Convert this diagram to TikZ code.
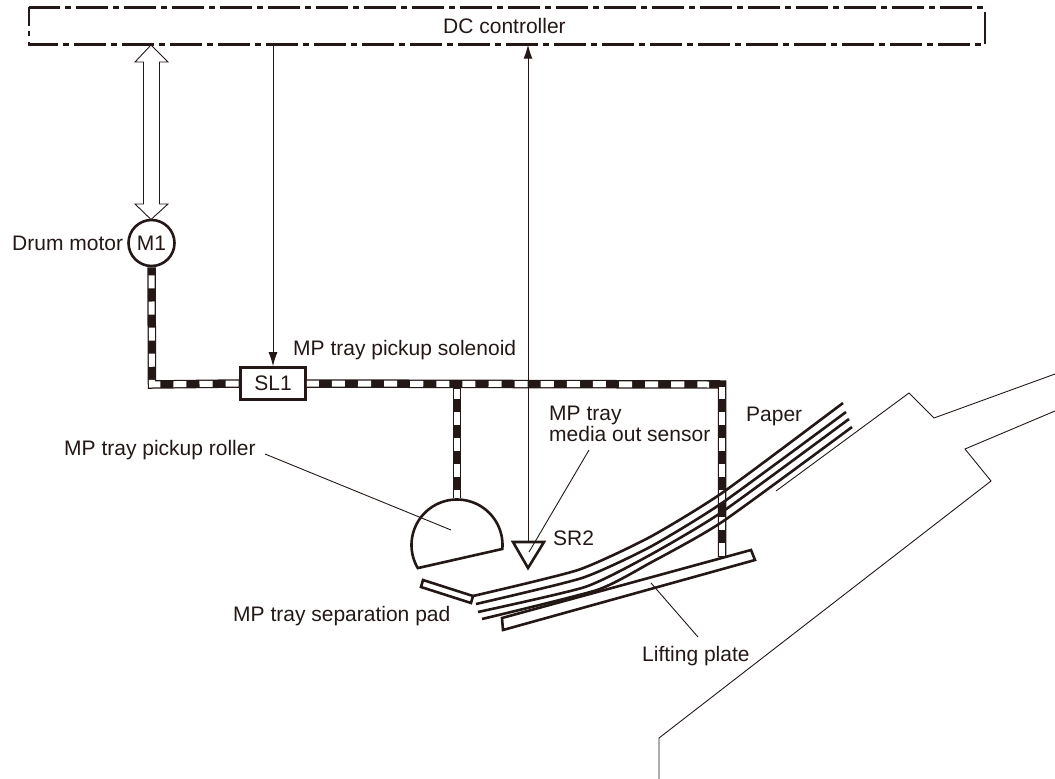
\documentclass[tikz,border=0pt]{standalone}
\usepackage{fontspec}
\setmainfont{Liberation Sans}
\usetikzlibrary{arrows.meta}
\definecolor{ink}{HTML}{231815}
\tikzset{
  x=1pt,y=-1pt,
  lbl/.style={inner sep=0pt,anchor=base west,text=ink,font=\fontsize{21}{21}\selectfont},
  thin line/.style={draw=ink,line width=0.9pt},
  part/.style={draw=ink,line width=2.6pt,line join=miter},
  paper/.style={draw=ink,line width=2.6pt},
  bus/.style={draw=ink,line width=2.4pt},
  sig/.style={draw=ink,line width=1pt},
  tip/.style={-{Latex[length=14pt,width=9pt]}},
  belta/.style={draw=ink,line width=8.5pt},
  beltb/.style={draw=white,line width=6pt,dash pattern=on 13.05pt off 13.05pt},
}
\begin{document}
\begin{tikzpicture}
\useasboundingbox (0,0) rectangle (1055,779);
% DC controller bar
\node[inner sep=0pt,minimum width=956pt,minimum height=37pt] (dc) at (507,26) {};
\draw[bus,dash pattern=on 32pt off 5pt on 6pt off 5pt,dash phase=1pt] (29,7.5) -- (984,7.5);
\draw[bus,dash pattern=on 32pt off 5pt on 6pt off 5pt,dash phase=3pt] (29,44.5) -- (981,44.5);
\draw[bus] (29,6.5) -- (29,26) (29,31) -- (29,36) (29,42) -- (29,45.5);
\draw[bus] (985,12) -- (985,44);
\node[lbl] (dctext) at (443,33) {DC controller};
% components
\node[draw=ink,line width=2.6pt,circle,minimum size=46pt,inner sep=0pt,text=ink,font=\fontsize{21}{21}\selectfont] (m1) at (151.5,243) {M1};
\node[draw=ink,line width=2.6pt,fill=white,minimum width=65pt,minimum height=32pt,inner sep=0pt,text=ink,font=\fontsize{21}{21}\selectfont] (sl1) at (273,383.5) {SL1};
\coordinate (corner) at (152,384.5);
\coordinate (j) at (457,384.5);
\coordinate (jw) at (457,389);
\coordinate (rc) at (722,384.5);
\coordinate (rh) at (709,384.5);
\coordinate (rw) at (722,387);
\coordinate (rtop) at (457,498);
\coordinate (plate) at (722,557);
% belts
\draw[belta,line join=miter] (m1.south) -- (corner) -- (sl1.west);
\draw[beltb,dash phase=18pt,line join=miter] (m1.south) -- (corner) -- (sl1.west);
\draw[belta] (j) -- (rtop);
\draw[beltb,dash phase=3pt] (jw) -- (rtop);
\draw[belta,line join=miter] (sl1.east) -- (rc) -- (plate);
\draw[beltb,dash phase=1pt] (sl1.east) -- (rh);
\draw[beltb,dash phase=1pt] (rw) -- (plate);
% hollow double arrow
\draw[thin line,fill=white,line join=miter] (151,45) -- (168,62) -- (159.5,62) -- (159.5,204) -- (168,204) -- (151,219.5) -- (135,204) -- (143.5,204) -- (143.5,62) -- (135,62) -- cycle;
% signal lines
\coordinate (sr) at (528,542);
\draw[sig,tip] (dc.south -| sl1.north) -- (sl1.north);
\draw[sig,tip] (sr) -- (dc.south -| sr);
% roller
\draw[part,fill=white] plot[domain=5:-210.5,samples=70] ({457+45.5*cos(\x)},{545+45.5*sin(\x)}) -- cycle;
% sensor
\draw[part] (513,542) -- (544,542) -- (528,568) -- cycle;
% separation pad, lifting plate
\draw[part] (423,580) -- (473,596) -- (471,603) -- (421,587) -- cycle;
% paper
\draw[paper] plot[smooth,tension=0.35] coordinates {(473,596) (578,570) (650,537) (722,493) (843,403)};
\draw[paper] plot[smooth,tension=0.35] coordinates {(476,604) (582,578) (650,547) (722,503) (846,412)};
\draw[paper] plot[smooth,tension=0.35] coordinates {(478,612) (585,587) (650,555) (722,512) (849,419)};
\draw[paper] plot[smooth,tension=0.35] coordinates {(482,619) (597,590) (650,563) (722,522) (852,427)};
\draw[part] (751,550) -- (755,560) -- (503,630) -- (502,618) -- cycle;
% tray
\draw[thin line,line join=miter] (1055,374) -- (934,418) -- (909,393) -- (776,491);
\draw[thin line,line join=miter] (1055,411) -- (965,449) -- (991,481) -- (659,738) -- (659,779);
% labels
\node[lbl] (drum) at (12,250) {Drum motor};
\node[lbl] (sol) at (293,355) {MP tray pickup solenoid};
\node[lbl] (roller) at (64,455) {MP tray pickup roller};
\node[lbl] (pad) at (233,621) {MP tray separation pad};
\node[lbl] (sr2) at (553,545) {SR2};
\node[lbl] (mp) at (549,420) {MP tray};
\node[lbl] (media) at (549,441) {media out sensor};
\node[lbl] (paperl) at (746,421) {Paper};
\node[lbl] (lift) at (642,661) {Lifting plate};
% leaders
\coordinate (l1) at (265,454); \coordinate (l2) at (451,530);
\coordinate (l3) at (589,450); \coordinate (l4) at (529,552);
\coordinate (l5) at (651,583); \coordinate (l6) at (698,637);
\draw[thin line] (l1) -- (l2);
\draw[thin line] (l3) -- (l4);
\draw[thin line] (l5) -- (l6);
\end{tikzpicture}
\end{document}
